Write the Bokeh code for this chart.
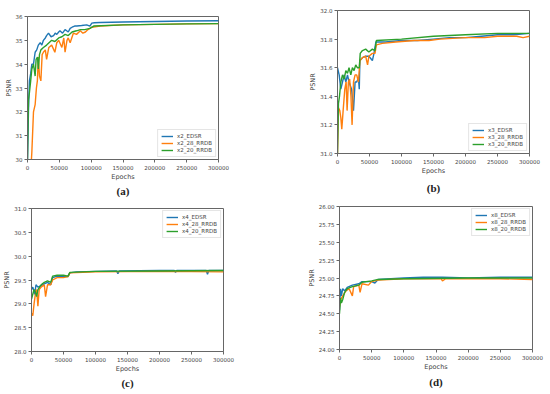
from bokeh.plotting import figure
from bokeh.layouts import column, row
from bokeh.models import FixedTicker, NumeralTickFormatter, Title, Range1d
from bokeh.embed import file_html
from bokeh.resources import INLINE

# ---------------- data ----------------
a_edsr_x = [0, 1500, 3000, 5000, 6800, 9400, 12000, 14500, 17000, 20000, 22500, 25000, 28000, 30000, 33000,
            37000, 41000, 43500, 46000, 49000, 51000, 55000, 59000, 61500, 64000, 67000, 70000, 74000, 77500,
            85000, 93000, 98000, 101000, 105000, 114000, 150000, 200000, 250000, 300000]
a_edsr_y = [30.0, 32.0, 33.3, 33.6, 34.0, 34.0, 34.5, 34.6, 34.8, 34.9, 34.8, 35.0, 35.1, 35.2, 35.3,
            35.15, 35.2, 35.3, 35.25, 35.35, 35.4, 35.3, 35.45, 35.4, 35.35, 35.5, 35.55, 35.6, 35.6,
            35.62, 35.65, 35.6, 35.72, 35.74, 35.75, 35.77, 35.79, 35.81, 35.82]
a_rrdb28_x = [0, 4000, 6800, 9400, 12000, 14000, 15500, 17000, 18800, 21000, 23000, 25000, 28000, 30000,
              33500, 38000, 43000, 46000, 49000, 54000, 57000, 59000, 62000, 64000, 67000, 72000, 77000,
              83000, 87000, 91000, 95000, 98000, 101000, 114000, 150000, 200000, 250000, 300000]
a_rrdb28_y = [27.5, 29.0, 30.3, 32.0, 32.3, 33.0, 33.3, 34.3, 33.5, 33.3, 34.4, 34.5, 34.6, 34.2,
              34.7, 34.8, 34.5, 34.9, 35.0, 34.7, 35.1, 34.5, 35.0, 35.1, 34.9, 35.3, 35.25,
              35.4, 35.3, 35.35, 35.45, 35.5, 35.55, 35.6, 35.65, 35.67, 35.69, 35.7]
a_rrdb20_x = [0, 1500, 3000, 5000, 6800, 9400, 12000, 13500, 15700, 17000, 18800, 21000, 25000, 30000,
              38000, 43000, 49000, 54000, 59000, 64000, 70000, 77000, 83000, 90000, 98000, 104000,
              150000, 200000, 250000, 300000]
a_rrdb20_y = [30.0, 32.5, 32.8, 33.3, 33.8, 34.0, 33.5, 34.2, 34.3, 33.8, 34.4, 34.6, 34.7, 34.8,
              35.0, 34.95, 35.1, 35.15, 35.25, 35.2, 35.35, 35.4, 35.45, 35.45, 35.5, 35.6,
              35.65, 35.67, 35.69, 35.7]

b_edsr_x = [0, 2600, 5200, 7800, 10400, 13000, 15600, 18000, 22000, 25000, 27500, 30000, 32700, 34000,
            35000, 39000, 44000, 49000, 54500, 57000, 60000, 75000, 100000, 125000, 150000, 175000,
            200000, 225000, 250000, 275000, 300000]
b_edsr_y = [31.6, 31.55, 31.45, 31.5, 31.55, 31.5, 31.55, 31.5, 31.45, 31.3, 31.5, 31.5, 31.53, 31.45,
            31.65, 31.67, 31.68, 31.68, 31.65, 31.7, 31.78, 31.78, 31.79, 31.79, 31.8, 31.81,
            31.81, 31.82, 31.83, 31.83, 31.84]
b_rrdb28_x = [0, 1500, 3600, 5200, 6700, 8800, 11400, 13500, 15000, 17000, 19000, 21000, 22800, 25000,
              27500, 30000, 32700, 35000, 39000, 44000, 47000, 49000, 54500, 58600, 60700, 70000,
              91000, 120000, 143000, 160000, 200000, 230000, 250000, 280000, 290000, 300000]
b_rrdb28_y = [31.0, 31.32, 31.3, 31.25, 31.17, 31.3, 31.45, 31.5, 31.3, 31.5, 31.52, 31.4, 31.2, 31.5,
              31.55, 31.55, 31.5, 31.65, 31.67, 31.68, 31.62, 31.68, 31.7, 31.7, 31.76, 31.77,
              31.78, 31.79, 31.79, 31.8, 31.81, 31.81, 31.82, 31.82, 31.81, 31.82]
b_rrdb20_x = [0, 1500, 3100, 5200, 7800, 10400, 13000, 15600, 18000, 20800, 23300, 25900, 28500, 31000,
              34000, 35500, 39000, 44000, 49000, 54500, 58600, 60700, 100000, 150000, 200000,
              250000, 300000]
b_rrdb20_y = [31.0, 31.35, 31.4, 31.5, 31.55, 31.52, 31.58, 31.56, 31.6, 31.55, 31.6, 31.58, 31.62, 31.6,
              31.6, 31.7, 31.72, 31.73, 31.71, 31.73, 31.72, 31.79, 31.8, 31.82, 31.83,
              31.84, 31.84]

c_edsr_x = [0, 2000, 5000, 7000, 10000, 15000, 20000, 25000, 30000, 33000, 40000, 50000, 57000, 60000,
            70000, 100000, 133000, 135000, 137000, 200000, 223000, 225000, 227000, 250000, 273000,
            275000, 277000, 300000]
c_edsr_y = [29.3, 29.35, 29.2, 29.4, 29.35, 29.38, 29.42, 29.45, 29.4, 29.55, 29.58, 29.58, 29.57, 29.65,
            29.67, 29.68, 29.69, 29.63, 29.69, 29.7, 29.7, 29.66, 29.7, 29.7, 29.7,
            29.62, 29.7, 29.7]
c_rrdb28_x = [0, 2000, 4000, 6000, 8000, 10000, 12000, 15000, 20000, 22000, 25000, 30000, 33000, 40000,
              50000, 57000, 60000, 100000, 200000, 300000]
c_rrdb28_y = [28.8, 28.75, 29.0, 29.2, 29.3, 28.95, 29.3, 29.35, 29.4, 29.15, 29.4, 29.4, 29.5, 29.55,
              29.55, 29.57, 29.65, 29.67, 29.68, 29.67]
c_rrdb20_x = [0, 2000, 4000, 6000, 8000, 10000, 15000, 20000, 25000, 30000, 33000, 40000, 50000, 57000,
              60000, 100000, 200000, 300000]
c_rrdb20_y = [29.1, 29.2, 29.3, 29.25, 29.15, 29.3, 29.4, 29.45, 29.48, 29.45, 29.58, 29.6, 29.6, 29.58,
              29.66, 29.68, 29.69, 29.7]

d_edsr_x = [0, 1500, 3000, 5000, 8000, 12000, 20000, 30000, 35000, 50000, 55000, 60000, 100000, 130000,
            160000, 200000, 250000, 300000]
d_edsr_y = [24.55, 24.85, 24.75, 24.85, 24.82, 24.87, 24.9, 24.92, 24.95, 24.95, 24.93, 24.98, 25.0, 25.01,
            25.01, 25.0, 25.01, 25.01]
d_rrdb28_x = [0, 2000, 5000, 10000, 15000, 20000, 22000, 30000, 32000, 35000, 45000, 50000, 60000,
              100000, 158000, 160000, 165000, 200000, 250000, 300000]
d_rrdb28_y = [24.6, 24.7, 24.75, 24.82, 24.85, 24.75, 24.88, 24.9, 24.8, 24.92, 24.9, 24.95, 24.97,
              24.99, 24.99, 24.96, 24.99, 24.99, 24.99, 24.98]
d_rrdb20_x = [0, 1500, 3000, 5000, 8000, 12000, 20000, 30000, 35000, 50000, 60000, 100000, 200000, 300000]
d_rrdb20_y = [24.5, 24.72, 24.65, 24.7, 24.8, 24.85, 24.88, 24.9, 24.94, 24.96, 24.98, 24.99, 25.0, 25.0]

x_ticks = [0, 50000, 100000, 150000, 200000, 250000, 300000]
a_yticks = [30, 31, 32, 33, 34, 35, 36]
b_yticks = [31.0, 31.2, 31.4, 31.6, 31.8, 32.0]
c_yticks = [28.0, 28.5, 29.0, 29.5, 30.0, 30.5, 31.0]
d_yticks = [24.0, 24.25, 24.5, 24.75, 25.0, 25.25, 25.5, 25.75, 26.0]

series_names = ["EDSR", "28_RRDB", "20_RRDB"]
colors = ["#1f77b4", "#ff7f0e", "#2ca02c"]

FONT = "DejaVu Sans"
TXT = "#444444"


def make_panel(scale, series, yticks, yfmt, caption, legend_loc, fw, bl, br, bt, bb, cap_standoff):
    p = figure(frame_width=fw, frame_height=143, output_backend="svg", toolbar_location=None,
               title=None,
               x_range=Range1d(0, 300000), y_range=Range1d(yticks[0], yticks[-1]),
               min_border_left=bl, min_border_right=br, min_border_top=bt, min_border_bottom=bb)
    p.background_fill_color = "white"
    p.border_fill_color = "white"
    p.outline_line_color = "#666666"
    p.outline_line_width = 1
    p.xgrid.visible = False
    p.ygrid.visible = False
    for (xs, ys), name, col in zip(series, series_names, colors):
        p.line(xs, ys, line_color=col, line_width=1.4, legend_label=f"x{scale}_{name}")
    for ax in (p.xaxis[0], p.yaxis[0]):
        ax.axis_line_color = "#666666"
        ax.major_tick_line_color = "#666666"
        ax.major_tick_in = 0
        ax.major_tick_out = 3
        ax.minor_tick_line_color = None
        ax.major_label_text_font = FONT
        ax.major_label_text_font_size = "5.5px"
        ax.major_label_text_color = TXT
        ax.major_label_standoff = 2
        ax.axis_label_text_font = FONT
        ax.axis_label_text_font_size = "6.5px"
        ax.axis_label_text_color = TXT
        ax.axis_label_text_font_style = "normal"
        ax.axis_label_standoff = 0
    p.xaxis.ticker = FixedTicker(ticks=x_ticks)
    p.xaxis.formatter = NumeralTickFormatter(format="0")
    p.yaxis.ticker = FixedTicker(ticks=yticks)
    p.yaxis.formatter = NumeralTickFormatter(format=yfmt)
    p.xaxis.axis_label = "Epochs"
    p.yaxis.axis_label = "PSNR"
    lg = p.legend[0]
    lg.location = legend_loc
    lg.label_text_font = FONT
    lg.label_text_font_size = "5.5px"
    lg.label_text_color = TXT
    lg.label_height = 6
    lg.glyph_height = 6
    lg.glyph_width = 12
    lg.label_standoff = 4
    lg.spacing = 1
    lg.padding = 3
    lg.margin = 2
    lg.border_line_color = "#cccccc"
    lg.border_line_width = 1
    lg.background_fill_alpha = 0.85
    t = Title(text=caption, align="center", text_font="Liberation Serif", text_font_size="11px",
              text_font_style="bold", text_color="#222222", standoff=cap_standoff)
    p.add_layout(t, "below")
    return p


pa = make_panel(2, [(a_edsr_x, a_edsr_y), (a_rrdb28_x, a_rrdb28_y), (a_rrdb20_x, a_rrdb20_y)],
                a_yticks, "0", "(a)", "bottom_right", 191, 27, 57, 16, 43, -1)
pb = make_panel(3, [(b_edsr_x, b_edsr_y), (b_rrdb28_x, b_rrdb28_y), (b_rrdb20_x, b_rrdb20_y)],
                b_yticks, "0.0", "(b)", "bottom_right", 192, 62, 19, 10, 49, 5)
pc = make_panel(4, [(c_edsr_x, c_edsr_y), (c_rrdb28_x, c_rrdb28_y), (c_rrdb20_x, c_rrdb20_y)],
                c_yticks, "0.0", "(c)", "top_right", 192, 30, 53, 6, 41, -1)
pd_ = make_panel(8, [(d_edsr_x, d_edsr_y), (d_rrdb28_x, d_rrdb28_y), (d_rrdb20_x, d_rrdb20_y)],
                 d_yticks, "0.00", "(d)", "top_right", 193, 63, 17, 4, 44, 1)

layout = column(row(column(pa), column(pb), spacing=0),
                row(column(pc), column(pd_), spacing=0), spacing=0)

with open("out.html", "w") as f:
    f.write(file_html(layout, INLINE))
